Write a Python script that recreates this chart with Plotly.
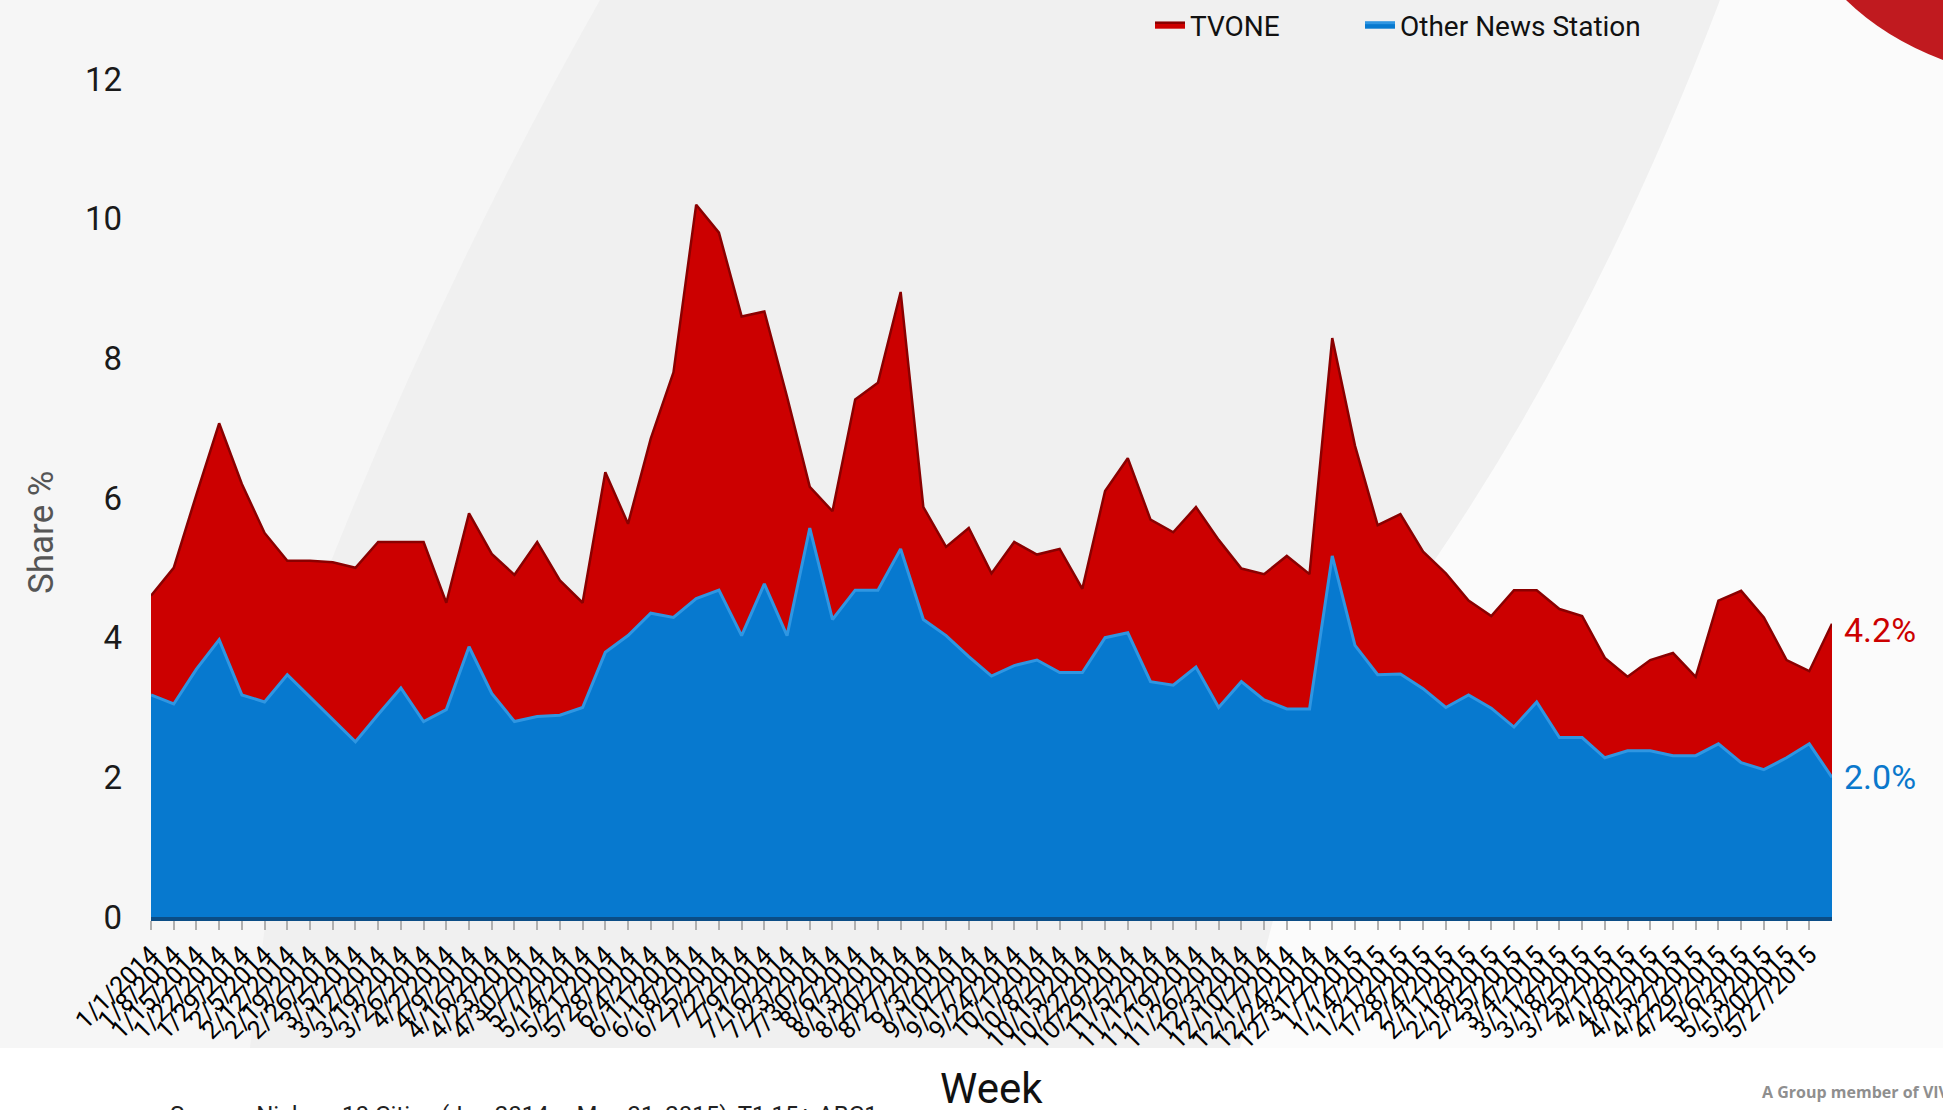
import plotly.graph_objects as go

# ---------------- data ----------------
weeks = [
    "1/1/2014", "1/8/2014", "1/15/2014", "1/22/2014", "1/29/2014", "2/5/2014", "2/12/2014",
    "2/19/2014", "2/26/2014", "3/5/2014", "3/12/2014", "3/19/2014", "3/26/2014", "4/2/2014",
    "4/9/2014", "4/16/2014", "4/23/2014", "4/30/2014", "5/7/2014", "5/14/2014", "5/21/2014",
    "5/28/2014", "6/4/2014", "6/11/2014", "6/18/2014", "6/25/2014", "7/2/2014", "7/9/2014",
    "7/16/2014", "7/23/2014", "7/30/2014", "8/6/2014", "8/13/2014", "8/20/2014", "8/27/2014",
    "9/3/2014", "9/10/2014", "9/17/2014", "9/24/2014", "10/1/2014", "10/8/2014", "10/15/2014",
    "10/22/2014", "10/29/2014", "11/5/2014", "11/12/2014", "11/19/2014", "11/26/2014",
    "12/3/2014", "12/10/2014", "12/17/2014", "12/24/2014", "12/31/2014", "1/7/2015",
    "1/14/2015", "1/21/2015", "1/28/2015", "2/4/2015", "2/11/2015", "2/18/2015", "2/25/2015",
    "3/4/2015", "3/11/2015", "3/18/2015", "3/25/2015", "4/1/2015", "4/8/2015", "4/15/2015",
    "4/22/2015", "4/29/2015", "5/6/2015", "5/13/2015", "5/20/2015", "5/27/2015",
]

tvone = [
    4.6, 5.0, 6.05, 7.07, 6.2, 5.5, 5.1, 5.1, 5.08, 5.0,
    5.37, 5.37, 5.37, 4.5, 5.78, 5.2, 4.9, 5.37, 4.82, 4.5,
    6.37, 5.63, 6.85, 7.8, 10.2, 9.8, 8.6, 8.67, 7.45, 6.16,
    5.81, 7.41, 7.65, 8.95, 5.87, 5.3, 5.57, 4.92, 5.37, 5.19,
    5.27, 4.7, 6.1, 6.57, 5.69, 5.51, 5.87, 5.4, 4.99, 4.91,
    5.17, 4.91, 8.29, 6.75, 5.61, 5.77, 5.23, 4.92, 4.53, 4.31,
    4.68, 4.68, 4.41, 4.31, 3.71, 3.44, 3.68, 3.78, 3.44, 4.53,
    4.67, 4.29, 3.68, 3.52, 4.2,
]

other = [
    3.18, 3.05, 3.55, 3.97, 3.18, 3.08, 3.47, 3.15, 2.84, 2.51,
    2.9, 3.28, 2.8, 2.97, 3.87, 3.2, 2.8, 2.87, 2.89, 3.0,
    3.79, 4.03, 4.35, 4.29, 4.56, 4.68, 4.03, 4.77, 4.03, 5.57,
    4.26, 4.68, 4.68, 5.27, 4.26, 4.03, 3.73, 3.45, 3.6, 3.68,
    3.5, 3.5, 4.0, 4.07, 3.37, 3.32, 3.58, 3.0, 3.37, 3.11,
    2.98, 2.98, 5.17, 3.89, 3.47, 3.48, 3.27, 3.0, 3.18, 2.99,
    2.72, 3.08, 2.57, 2.57, 2.28, 2.38, 2.38, 2.31, 2.31, 2.48,
    2.21, 2.11, 2.28, 2.48, 2.0,
]

y_ticks = [0, 2, 4, 6, 8, 10, 12]

# ---------------- layout geometry (pixels) ----------------
W, H = 1943, 1110
L, R, T, B = 151, 1832, 79, 917


def px(x):
    return (x - L) / (R - L)


def py(y):
    return (B - y) / (B - T)


xs = list(range(len(tvone)))

RED = "#cc0000"
BLUE = "#0779cf"

fig = go.Figure()
fig.add_trace(go.Scatter(
    x=xs, y=tvone, name="TVONE", mode="lines", fill="tozeroy",
    fillcolor=RED, line=dict(color="#8a0000", width=2.5),
    hoverinfo="skip", legend="legend",
))
fig.add_trace(go.Scatter(
    x=xs, y=other, name="Other News Station", mode="lines", fill="tozeroy",
    fillcolor=BLUE, line=dict(color="#2f96e2", width=3),
    hoverinfo="skip", legend="legend2",
))

shapes = [
    # lighter region on the left
    dict(type="path", xref="paper", yref="paper", layer="below",
         path=(f"M {px(0)},{py(0)} L {px(600)},{py(0)} Q {px(430)},{py(300)} {px(300)},{py(640)} "
               f"L {px(250)},{py(1048)} L {px(0)},{py(1048)} Z"),
         fillcolor="#f6f6f6", line=dict(width=0)),
    # whiter swoosh on the right
    dict(type="path", xref="paper", yref="paper", layer="below",
         path=(f"M {px(1720)},{py(0)} Q {px(1560)},{py(420)} {px(1330)},{py(700)} "
               f"L {px(1240)},{py(1048)} L {px(W)},{py(1048)} L {px(W)},{py(0)} Z"),
         fillcolor="#fbfbfb", line=dict(width=0)),
    # white band at the bottom
    dict(type="rect", xref="paper", yref="paper", layer="below",
         x0=px(0), x1=px(W), y0=py(H), y1=py(1048),
         fillcolor="#ffffff", line=dict(width=0)),
    # red corner swoosh
    dict(type="path", xref="paper", yref="paper", layer="below",
         path=(f"M {px(1846)},{py(0)} Q {px(1885)},{py(38)} {px(W)},{py(60)} "
               f"L {px(W)},{py(0)} Z"),
         fillcolor="#c01a1f", line=dict(width=0)),
]

annotations = [
    dict(x=xs[-1], y=tvone[-1], xref="x", yref="y", text=f"{tvone[-1]:.1f}%",
         showarrow=False, xanchor="left", yanchor="middle", xshift=10, yshift=-6,
         font=dict(family="Roboto", size=34, color=RED)),
    dict(x=xs[-1], y=other[-1], xref="x", yref="y", text=f"{other[-1]:.1f}%",
         showarrow=False, xanchor="left", yanchor="middle", xshift=10,
         font=dict(family="Roboto", size=34, color="#0a78cc")),
    dict(x=px(41), y=py(532), xref="paper", yref="paper", text="Share %",
         textangle=-90, showarrow=False, xanchor="center", yanchor="middle",
         font=dict(family="Roboto", size=35, color="#555555")),
    dict(x=px(991), y=py(1062), xref="paper", yref="paper", text="Week",
         showarrow=False, xanchor="center", yanchor="top",
         font=dict(family="Roboto", size=42, color="#111111")),
    dict(x=px(168), y=py(1099), xref="paper", yref="paper",
         text="Source: Nielsen 10 Cities (Jan 2014 – May 31, 2015), T1 15+ ABC1",
         showarrow=False, xanchor="left", yanchor="top",
         font=dict(family="Roboto", size=24, color="#222222")),
    dict(x=px(1760), y=py(1092), xref="paper", yref="paper",
         text="<b>A Group member of VIVA</b>",
         showarrow=False, xanchor="left", yanchor="middle",
         font=dict(family="Open Sans", size=16, color="#8f8f8f")),
]

legend_font = dict(family="Roboto", size=28, color="#111111")

fig.update_layout(
    width=W, height=H,
    margin=dict(l=L, r=W - R, t=T, b=H - B, autoexpand=False),
    paper_bgcolor="#f0f0f0",
    plot_bgcolor="rgba(0,0,0,0)",
    showlegend=True,
    legend=dict(x=px(1150), y=py(0), xanchor="left", yanchor="top",
                font=legend_font, bgcolor="rgba(0,0,0,0)", itemwidth=30),
    legend2=dict(x=px(1360), y=py(0), xanchor="left", yanchor="top",
                 font=legend_font, bgcolor="rgba(0,0,0,0)", itemwidth=30),
    shapes=shapes,
    annotations=annotations,
    xaxis=dict(
        range=[0, xs[-1]], tickmode="array",
        tickvals=list(range(len(weeks))), ticktext=weeks,
        tickangle=-45, ticks="outside", ticklen=9, tickcolor="#b0b0b0", tickwidth=2,
        tickfont=dict(family="Roboto", size=25, color="#000000"),
        showgrid=False, zeroline=False, showline=True, linecolor="#0b4d86", linewidth=4,
        fixedrange=True,
    ),
    yaxis=dict(
        range=[0, 12], tickmode="array", tickvals=y_ticks,
        tickfont=dict(family="Roboto", size=33, color="#1a1a1a"),
        showgrid=False, zeroline=False, showline=False, ticks="",
        ticklabelstandoff=28, fixedrange=True,
    ),
)

fig.write_html("out.html")
